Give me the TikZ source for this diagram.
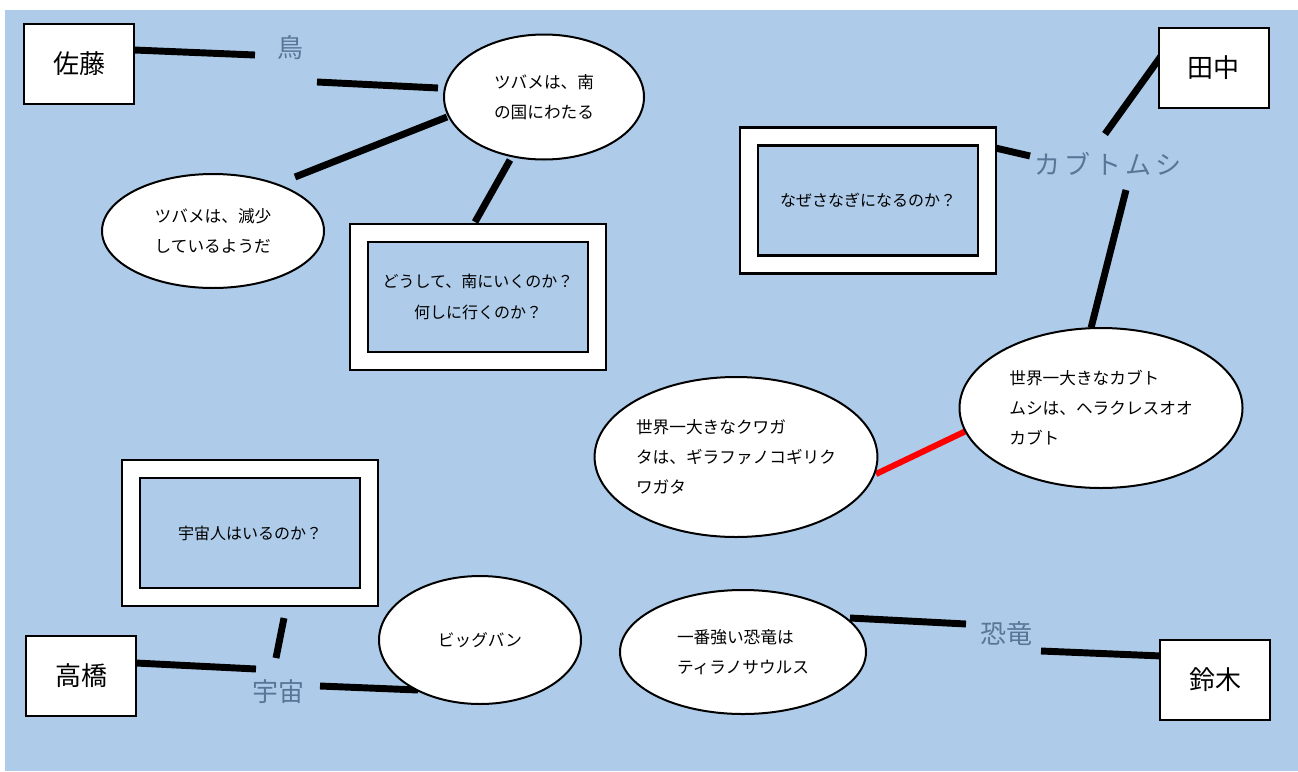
\documentclass[tikz,border=0pt]{standalone}
\usepackage{fontspec}
\setmainfont{Noto Sans CJK JP}
\usetikzlibrary{shapes.geometric}
\definecolor{bg}{RGB}{174,204,233}
\definecolor{lab}{RGB}{88,118,152}
\begin{document}
\begin{tikzpicture}[x=0.75pt,y=-0.75pt,
  person/.style={draw, line width=1.5pt, fill=white, minimum width=82.5pt, minimum height=60pt, inner sep=0pt, font=\fontsize{19.5}{23}\selectfont},
  topic/.style={text=lab, font=\fontsize{19.5}{23}\selectfont, inner sep=0pt},
  bubble/.style={ellipse, draw, line width=1.5pt, fill=white, inner sep=0pt, align=left, font=\fontsize{12.5}{22.5}\selectfont},
  outerbox/.style={draw, line width=1.8pt, fill=white, minimum width=192pt, minimum height=109.5pt, inner sep=0pt},
  innerbox/.style={draw, line width=1.8pt, fill=bg, minimum width=165pt, minimum height=82.5pt, inner sep=0pt, align=center, font=\fontsize{12}{23.5}\selectfont},
  link/.style={line width=5.2pt},
  redlink/.style={line width=4.5pt, draw=red},
]
\useasboundingbox (0,0) rectangle (1298,771);
\fill[white] (0,0) rectangle (1298,771);
\fill[bg] (5,10) rectangle (1298,771);

% connector end points
\coordinate (c1a) at (134,50);   \coordinate (c1b) at (255,55);
\coordinate (c2a) at (317,82);   \coordinate (c2b) at (438,88);
\coordinate (c3a) at (447,117);  \coordinate (c3b) at (295,177);
\coordinate (c4a) at (510,160);  \coordinate (c4b) at (475,222);
\coordinate (c5a) at (1164,52);  \coordinate (c5b) at (1105,134);
\coordinate (c6a) at (1030,156); \coordinate (c6b) at (991,147);
\coordinate (c7a) at (1126,190); \coordinate (c7b) at (1091,328);
\coordinate (c8a) at (966,431);  \coordinate (c8b) at (876,474);
\coordinate (c9a) at (850,618);  \coordinate (c9b) at (966,624);
\coordinate (c10a) at (1041,651); \coordinate (c10b) at (1162,656);
\coordinate (c11a) at (136,663); \coordinate (c11b) at (256,669);
\coordinate (c12a) at (276,658); \coordinate (c12b) at (284,618);
\coordinate (c13a) at (320,686); \coordinate (c13b) at (418,690);

\draw[link] (c1a) -- (c1b);
\draw[link] (c2a) -- (c2b);
\draw[link] (c3a) -- (c3b);
\draw[link] (c4a) -- (c4b);
\draw[link] (c5a) -- (c5b);
\draw[link] (c6a) -- (c6b);
\draw[link] (c7a) -- (c7b);
\draw[redlink] (c8a) -- (c8b);
\draw[link] (c9a) -- (c9b);
\draw[link] (c10a) -- (c10b);
\draw[link] (c11a) -- (c11b);
\draw[link] (c12a) -- (c12b);
\draw[link] (c13a) -- (c13b);

% persons
\node[person] (sato) at (79,64) {佐藤};
\node[person] (tanaka) at (1213.5,67.5) {田中};
\node[person] (suzuki) at (1215,680) {鈴木};
\node[person] (takahashi) at (81,676) {高橋};

% topics
\node[topic] (tori) at (290,48) {鳥};
\node[topic] (kabuto) at (1108,164) {カ\,ブ\,ト\,ム\,シ};
\node[topic] (uchu) at (278,692) {宇宙};
\node[topic] (kyoryu) at (1006,634) {恐竜};

% bubbles
\node[bubble, minimum width=150pt, minimum height=93.75pt] (e1) at (544,97) {ツバメは、南\\の国にわたる};
\node[bubble, minimum width=166.5pt, minimum height=85.5pt] (e2) at (213,231) {ツバメは、減少\\しているようだ};
\node[bubble, minimum width=212.25pt, minimum height=120pt] (e3) at (1101,408) {世界一大きなカブト\\ムシは、ヘラクレスオオ\\カブト};
\node[bubble, minimum width=211.5pt, minimum height=120pt] (e4) at (736,457) {世界一大きなクワガ\\タは、ギラファノコギリク\\ワガタ};
\node[bubble, minimum width=184.5pt, minimum height=93pt] (e5) at (743,652) {一番強い恐竜は\\ティラノサウルス};
\node[bubble, minimum width=151.5pt, minimum height=96pt] (e6) at (480,640) {ビッグバン};

% question boxes
\node[outerbox] (q1o) at (478,297) {};
\node[innerbox] (q1) at (478,297) {どうして、南にいくのか？\\何しに行くのか？};
\node[outerbox] (q2o) at (868,200.5) {};
\node[innerbox] (q2) at (868,200.5) {なぜさなぎになるのか？};
\node[outerbox] (q3o) at (250,533) {};
\node[innerbox] (q3) at (250,533) {宇宙人はいるのか？};
\end{tikzpicture}
\end{document}
